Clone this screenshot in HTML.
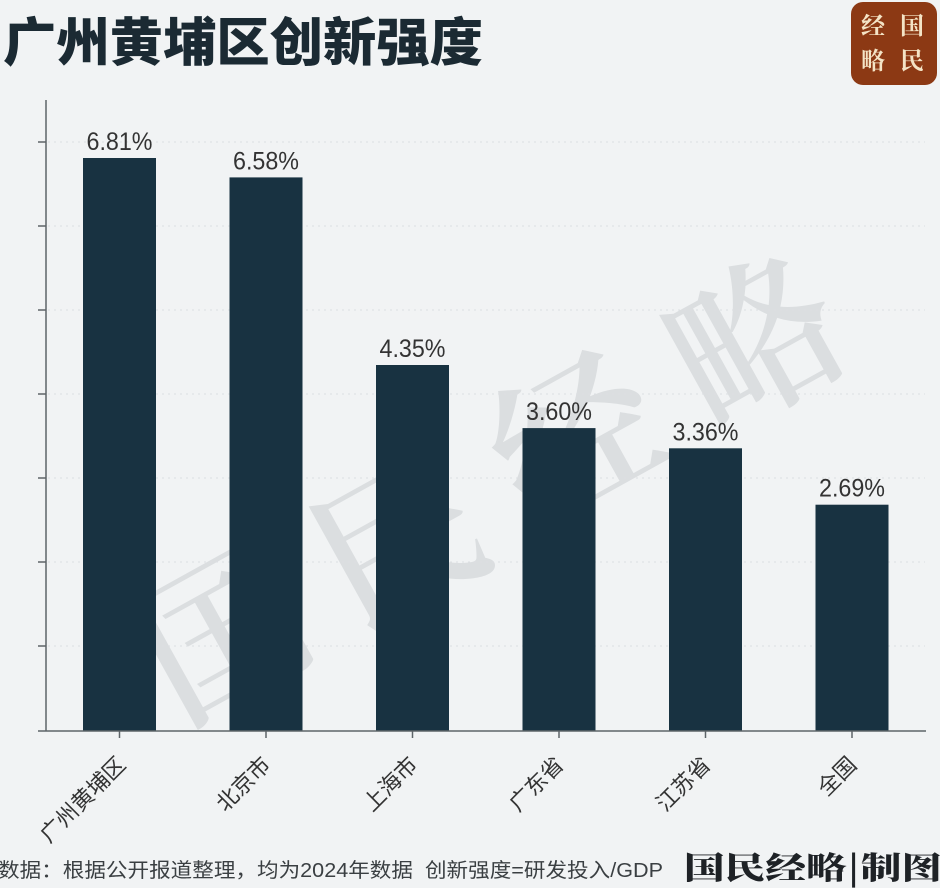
<!DOCTYPE html>
<html>
<head>
<meta charset="utf-8">
<style>
  html,body{margin:0;padding:0;background:#f1f3f4;}
  svg{display:block;}
</style>
</head>
<body>
<svg width="940" height="888" viewBox="0 0 940 888" xmlns="http://www.w3.org/2000/svg">
  <rect x="0" y="0" width="940" height="888" fill="#f1f3f4"/>

  <!-- watermark -->
  <g font-family="'Noto Serif CJK SC','Noto Sans CJK SC',serif" font-weight="600" font-size="165" fill="#dbdee0">
    <text transform="translate(231,650) rotate(-29)" text-anchor="middle" dy="40">国</text>
    <text transform="translate(408,560) rotate(-29)" text-anchor="middle" dy="40">民</text>
    <text transform="translate(585,455) rotate(-29)" text-anchor="middle" dy="40">经</text>
    <text transform="translate(765,360) rotate(-29)" text-anchor="middle" dy="40">略</text>
  </g>

  <!-- title -->
  <text x="3" y="61" font-family="'Liberation Sans','Noto Sans CJK SC',sans-serif" font-weight="900" font-size="52" fill="#1b2a33" textLength="480" lengthAdjust="spacingAndGlyphs">广州黄埔区创新强度</text>

  <!-- logo -->
  <rect x="851" y="2" width="86" height="83" rx="12" ry="12" fill="#8c3914"/>
  <g font-family="'Noto Serif CJK SC','Noto Sans CJK SC',serif" font-weight="700" font-size="24" fill="#f4e4c6" text-anchor="middle">
    <text x="873" y="34">经</text>
    <text x="912" y="34">国</text>
    <text x="873" y="69">略</text>
    <text x="912" y="69">民</text>
  </g>

  <!-- gridlines -->
  <g stroke="#dcdfe2" stroke-width="1" stroke-dasharray="2,4">
    <line x1="48" y1="142" x2="925" y2="142"/>
    <line x1="48" y1="226" x2="925" y2="226"/>
    <line x1="48" y1="310" x2="925" y2="310"/>
    <line x1="48" y1="394" x2="925" y2="394"/>
    <line x1="48" y1="478" x2="925" y2="478"/>
    <line x1="48" y1="562" x2="925" y2="562"/>
    <line x1="48" y1="646" x2="925" y2="646"/>
  </g>

  <!-- bars -->
  <g fill="#183241">
    <rect x="83" y="158" width="73" height="573"/>
    <rect x="229.5" y="177.4" width="73" height="553.6"/>
    <rect x="376" y="365" width="73" height="366"/>
    <rect x="522.5" y="428.1" width="73" height="302.9"/>
    <rect x="669" y="448.3" width="73" height="282.7"/>
    <rect x="815.5" y="504.7" width="73" height="226.3"/>
  </g>

  <!-- axes -->
  <g stroke="#5e6468" stroke-width="1.5" fill="none">
    <line x1="46" y1="100" x2="46" y2="731"/>
    <line x1="38" y1="731" x2="926" y2="731"/>
    <line x1="38" y1="142" x2="46" y2="142"/>
    <line x1="38" y1="226" x2="46" y2="226"/>
    <line x1="38" y1="310" x2="46" y2="310"/>
    <line x1="38" y1="394" x2="46" y2="394"/>
    <line x1="38" y1="478" x2="46" y2="478"/>
    <line x1="38" y1="562" x2="46" y2="562"/>
    <line x1="38" y1="646" x2="46" y2="646"/>
    <line x1="119.5" y1="731" x2="119.5" y2="738"/>
    <line x1="266" y1="731" x2="266" y2="738"/>
    <line x1="412.5" y1="731" x2="412.5" y2="738"/>
    <line x1="559" y1="731" x2="559" y2="738"/>
    <line x1="705.5" y1="731" x2="705.5" y2="738"/>
    <line x1="852" y1="731" x2="852" y2="738"/>
  </g>

  <!-- value labels -->
  <g font-family="'Liberation Sans','Noto Sans CJK SC',sans-serif" font-size="25" fill="#333" text-anchor="middle">
    <text x="119.5" y="150" textLength="66" lengthAdjust="spacingAndGlyphs">6.81%</text>
    <text x="266" y="169.4" textLength="66" lengthAdjust="spacingAndGlyphs">6.58%</text>
    <text x="412.5" y="357" textLength="66" lengthAdjust="spacingAndGlyphs">4.35%</text>
    <text x="559" y="420.1" textLength="66" lengthAdjust="spacingAndGlyphs">3.60%</text>
    <text x="705.5" y="440.3" textLength="66" lengthAdjust="spacingAndGlyphs">3.36%</text>
    <text x="852" y="496.7" textLength="66" lengthAdjust="spacingAndGlyphs">2.69%</text>
  </g>

  <!-- x labels -->
  <g font-family="'Liberation Sans','Noto Sans CJK SC',sans-serif" font-size="22" fill="#333" text-anchor="end">
    <text transform="translate(127,766) rotate(-45)">广州黄埔区</text>
    <text transform="translate(272,766) rotate(-45)">北京市</text>
    <text transform="translate(419,766) rotate(-45)">上海市</text>
    <text transform="translate(565,766) rotate(-45)">广东省</text>
    <text transform="translate(712,766) rotate(-45)">江苏省</text>
    <text transform="translate(858,766) rotate(-45)">全国</text>
  </g>

  <!-- footer -->
  <text x="-2" y="877" xml:space="preserve" style="white-space:pre" font-family="'Liberation Sans','Noto Sans CJK SC',sans-serif" font-size="20" fill="#3a3f42" textLength="665" lengthAdjust="spacingAndGlyphs">数据：根据公开报道整理，均为2024年数据  创新强度=研发投入/GDP</text>
  <text x="684" y="879" font-family="'Noto Serif CJK SC','Noto Sans CJK SC',serif" font-weight="900" font-size="31" fill="#1e2226" textLength="258" lengthAdjust="spacingAndGlyphs">国民经略|制图</text>
</svg>
</body>
</html>
